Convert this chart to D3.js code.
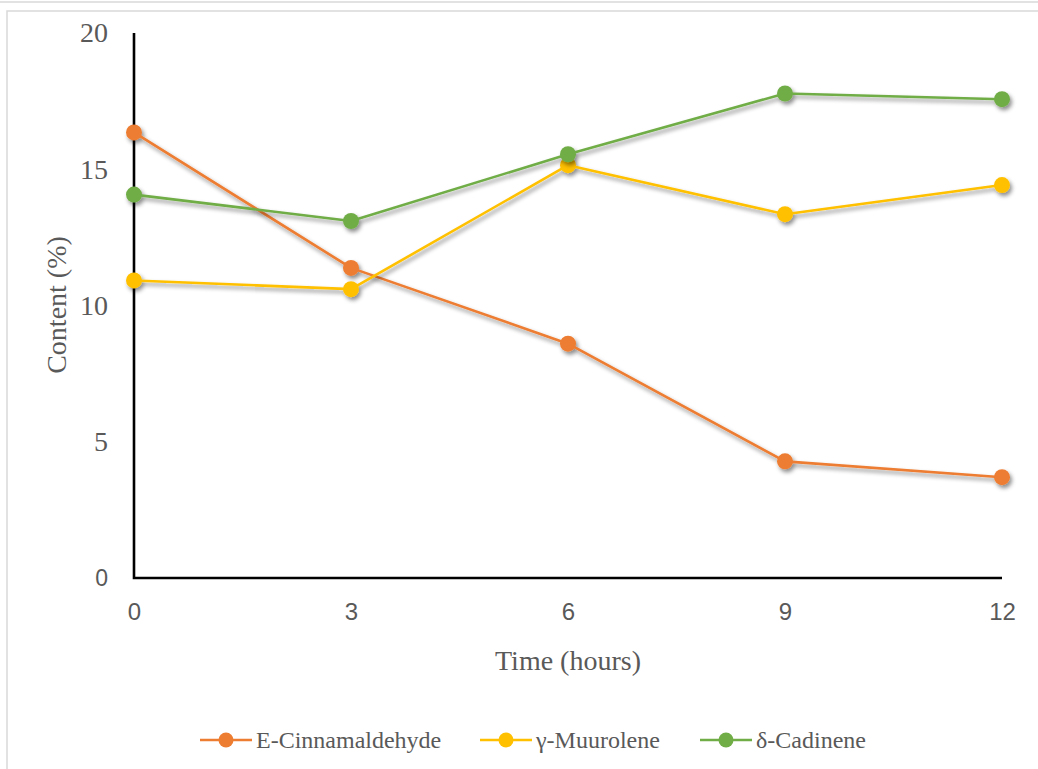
<!DOCTYPE html>
<html>
<head>
<meta charset="utf-8">
<script src="https://cdn.jsdelivr.net/npm/d3@7"></script>
<style>
  html, body { margin: 0; padding: 0; background: #fff; }
  svg { display: block; }
</style>
</head>
<body>
<svg id="chart" width="1038" height="769"></svg>
<script>
// Sampling times (hours)
const hours = [0, 3, 6, 9, 12];

// Component content (%) at each sampling time
const cinnamaldehyde = [16.35, 11.38, 8.6, 4.28, 3.7];
const muurolene = [10.92, 10.6, 15.15, 13.35, 14.42];
const cadinene = [14.07, 13.1, 15.55, 17.78, 17.57];

const seriesNames = ["E-Cinnamaldehyde", "γ-Muurolene", "δ-Cadinene"];
const seriesColors = ["#ED7D31", "#FFC000", "#70AD47"];
const yTicks = [0, 5, 10, 15, 20];

const SERIF = "'Liberation Serif', 'Times New Roman', 'DejaVu Serif', serif";
const SANS = "'Liberation Sans', Arial, sans-serif";

const series = [cinnamaldehyde, muurolene, cadinene].map((vals, i) => ({
  name: seriesNames[i],
  color: seriesColors[i],
  points: hours.map((h, j) => ({ h, v: vals[j] }))
}));

const svg = d3.select("#chart");

// Outer frames
svg.append("rect").attr("x", -5).attr("y", -20).attr("width", 1060).attr("height", 22)
  .attr("fill", "none").attr("stroke", "#d9d9d9").attr("stroke-width", 1.5);
svg.append("rect").attr("x", 7).attr("y", 11).attr("width", 1060).attr("height", 800)
  .attr("fill", "#fff").attr("stroke", "#d9d9d9").attr("stroke-width", 1.5);

const defs = svg.append("defs");
const f = defs.append("filter").attr("id", "shadow")
  .attr("x", "-50%").attr("y", "-50%").attr("width", "200%").attr("height", "200%");
f.append("feDropShadow").attr("dx", 2).attr("dy", 3).attr("stdDeviation", 2.2)
  .attr("flood-color", "#000").attr("flood-opacity", 0.45);

const x = d3.scaleLinear().domain([0, 12]).range([134, 1002]);
const y = d3.scaleLinear().domain([0, 20]).range([578, 33]);

// Y tick labels
const yAxis = svg.append("g").attr("transform", "translate(134,0)")
  .call(d3.axisLeft(y).tickValues(yTicks).tickSize(0).tickPadding(26).tickFormat(d3.format("d")));
yAxis.select(".domain").remove();
yAxis.selectAll("text")
  .attr("fill", "#595959")
  .style("font-family", d => d === 0 ? SANS : SERIF)
  .style("font-size", d => d === 0 ? "23px" : "28px");

// X tick labels
const xAxis = svg.append("g").attr("transform", "translate(0,578)")
  .call(d3.axisBottom(x).tickValues(hours).tickSize(0).tickPadding(25).tickFormat(d3.format("d")));
xAxis.select(".domain").remove();
xAxis.selectAll("text")
  .attr("fill", "#595959")
  .style("font-family", SANS)
  .style("font-size", "24px");

// Axis lines
svg.append("path")
  .attr("d", `M${x(0)},${y(20)}V${y(0)}H${x(12)}`)
  .attr("fill", "none").attr("stroke", "#000").attr("stroke-width", 2.6);

// Axis titles
svg.append("text")
  .attr("x", 568).attr("y", 670)
  .attr("text-anchor", "middle")
  .attr("fill", "#595959")
  .style("font-family", SERIF)
  .style("font-size", "28px")
  .text("Time (hours)");

svg.append("text")
  .attr("transform", "translate(66,305) rotate(-90)")
  .attr("text-anchor", "middle")
  .attr("fill", "#595959")
  .style("font-family", SERIF)
  .style("font-size", "28px")
  .text("Content (%)");

// Series lines and markers
const line = d3.line().x(d => x(d.h)).y(d => y(d.v));
const g = svg.append("g");
series.forEach(s => {
  const sg = g.append("g").attr("filter", "url(#shadow)");
  sg.append("path")
    .attr("d", line(s.points))
    .attr("fill", "none").attr("stroke", s.color).attr("stroke-width", 2.6)
    .attr("stroke-linejoin", "round");
  sg.selectAll("circle").data(s.points).join("circle")
    .attr("cx", d => x(d.h)).attr("cy", d => y(d.v)).attr("r", 8)
    .attr("fill", s.color);
});

// Legend
const legendX = [200, 480, 700];
const legend = svg.append("g");
series.forEach((s, i) => {
  const lx = legendX[i];
  const lg = legend.append("g");
  lg.append("line").attr("x1", lx).attr("x2", lx + 52).attr("y1", 740).attr("y2", 740)
    .attr("stroke", s.color).attr("stroke-width", 2.6);
  lg.append("circle").attr("cx", lx + 26).attr("cy", 740).attr("r", 7.5).attr("fill", s.color);
  lg.append("text").attr("x", lx + 56).attr("y", 748)
    .attr("fill", "#595959")
    .style("font-family", SERIF)
    .style("font-size", "24px")
    .text(s.name);
});
</script>
</body>
</html>
